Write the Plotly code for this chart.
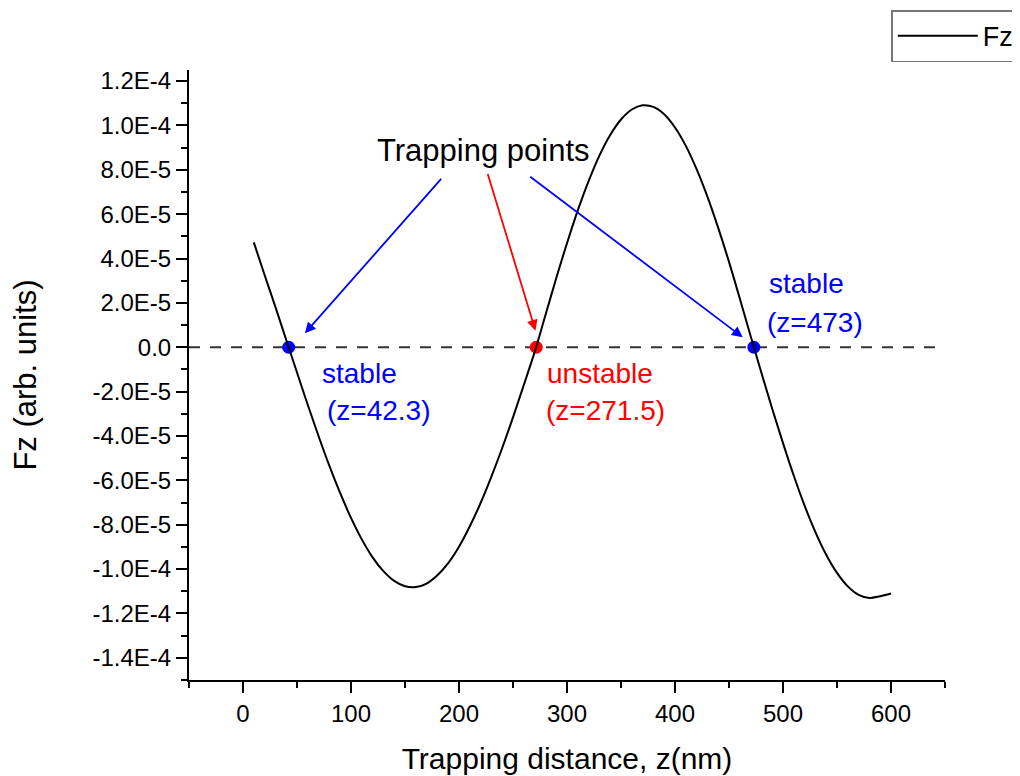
import plotly.graph_objects as go

# ---- data ----
z_nm = [10, 20, 30, 40, 50, 60, 70, 80, 90, 100, 110, 120, 130, 140, 150, 160, 170, 180, 190, 200,
        210, 220, 230, 240, 250, 260, 270, 280, 290, 300, 310, 320, 330, 340, 350, 360, 370, 380,
        390, 400, 410, 420, 430, 440, 450, 460, 470, 480, 490, 500, 510, 520, 530, 540, 550, 560,
        570, 580, 590, 600]
fz_e5 = [4.73, 3.26, 1.82, 0.34, -1.14, -2.60, -4.01, -5.35, -6.58, -7.69, -8.66, -9.47, -10.09,
         -10.53, -10.77, -10.81, -10.65, -10.28, -9.73, -8.99, -8.07, -7.02, -5.83, -4.54, -3.16,
         -1.70, -0.22, 1.44, 3.11, 4.69, 6.17, 7.49, 8.64, 9.57, 10.27, 10.72, 10.91, 10.84, 10.51,
         9.91, 9.08, 8.03, 6.79, 5.38, 3.85, 2.20, 0.51, -1.15, -2.77, -4.32, -5.79, -7.14, -8.33,
         -9.35, -10.17, -10.78, -11.16, -11.30, -11.22, -11.10]
fz = [v * 1e-5 for v in fz_e5]

trap_z = [42.3, 271.5, 473]
trap_fz = [0.0, 0.0, 0.0]
trap_colors = ["#0000FF", "#FF0000", "#0000FF"]
trap_kind = ["stable", "unstable", "stable"]
trap_label = ["(z=42.3)", "(z=271.5)", "(z=473)"]

y_tickvals = [1.2e-4, 1.0e-4, 8.0e-5, 6.0e-5, 4.0e-5, 2.0e-5, 0.0, -2.0e-5, -4.0e-5, -6.0e-5,
              -8.0e-5, -1.0e-4, -1.2e-4, -1.4e-4]
y_ticktext = ["1.2E-4", "1.0E-4", "8.0E-5", "6.0E-5", "4.0E-5", "2.0E-5", "0.0", "-2.0E-5",
              "-4.0E-5", "-6.0E-5", "-8.0E-5", "-1.0E-4", "-1.2E-4", "-1.4E-4"]
x_tickvals = [0, 100, 200, 300, 400, 500, 600]

FONT = "Arial, Liberation Sans, sans-serif"

fig = go.Figure()

fig.add_trace(go.Scatter(
    x=trap_z, y=trap_fz, mode="markers",
    marker=dict(size=13, color=trap_colors, line=dict(width=0)),
    showlegend=False, hoverinfo="skip"))

fig.add_trace(go.Scatter(
    x=z_nm, y=fz, mode="lines", name="Fz",
    line=dict(color="black", width=2, shape="spline")))

fig.add_shape(type="line", xref="x", yref="y", x0=-50, x1=650, y0=0, y1=0,
              line=dict(color="#333333", width=2, dash="11px,10px"), layer="below")

# text labels
label_pos = [  # (x_left_kind, y_kind, x_left_label, y_label)
    (71, -1.18e-5, 75.5, -2.85e-5),
    (280, -1.18e-5, 278.5, -2.85e-5),
    (485, 2.87e-5, 483, 1.11e-5),
]
for (xk, yk, xl, yl), kind, lab, col in zip(label_pos, trap_kind, trap_label, trap_colors):
    fig.add_annotation(x=xk, y=yk, xref="x", yref="y", text=kind, showarrow=False,
                       xanchor="left", yanchor="middle", font=dict(size=28, color=col, family=FONT))
    fig.add_annotation(x=xl, y=yl, xref="x", yref="y", text=lab, showarrow=False,
                       xanchor="left", yanchor="middle", font=dict(size=28, color=col, family=FONT))

fig.add_annotation(x=223, y=8.86e-5, xref="x", yref="y", text="Trapping points", showarrow=False,
                   xanchor="center", yanchor="middle", font=dict(size=31, color="black", family=FONT))

# arrows: (tail x, tail y, tip x, tip y, color)
arrows = [
    (184.7, 7.66e-5, 57.3, 6.3e-6, "#0000FF"),
    (226.2, 7.88e-5, 270.8, 7.5e-6, "#FF0000"),
    (264.6, 7.74e-5, 462.7, 4.5e-6, "#0000FF"),
]
for ax_, ay_, x_, y_, col in arrows:
    fig.add_annotation(x=x_, y=y_, ax=ax_, ay=ay_, xref="x", yref="y", axref="x", ayref="y",
                       text="", showarrow=True, arrowhead=2, arrowsize=1.2, arrowwidth=1.8,
                       arrowcolor=col, standoff=0, startstandoff=0)

fig.update_xaxes(
    range=[-50, 650], tickvals=x_tickvals, ticks="outside", ticklen=11, tickwidth=2,
    tickcolor="black", showline=True, linecolor="black", linewidth=2, showgrid=False,
    zeroline=False, tickfont=dict(size=24, family=FONT, color="black"),
    minor=dict(ticks="outside", ticklen=6, tickwidth=2, tickcolor="black", dtick=50, tick0=0,
               showgrid=False),
    title=dict(text="Trapping distance, z(nm)", font=dict(size=30, family=FONT, color="black"),
               standoff=22))
fig.update_yaxes(
    range=[-1.5e-4, 1.25e-4], tickvals=y_tickvals, ticktext=y_ticktext, ticks="outside",
    ticklen=11, tickwidth=2, tickcolor="black", showline=True, linecolor="black", linewidth=2,
    showgrid=False, zeroline=False, tickfont=dict(size=24, family=FONT, color="black"),
    minor=dict(ticks="outside", ticklen=6, tickwidth=2, tickcolor="black", dtick=1e-5, tick0=0,
               showgrid=False),
    title=dict(text="Fz (arb. units)", font=dict(size=31, family=FONT, color="black"),
               standoff=55))

fig.update_layout(
    width=1012, height=768, autosize=False,
    margin=dict(l=181, r=75, t=62, b=96, autoexpand=False),
    paper_bgcolor="white", plot_bgcolor="white",
    font=dict(family=FONT, color="black"),
    legend=dict(x=0.929, y=1.098, xanchor="left", yanchor="top", bgcolor="white",
                bordercolor="#777777", borderwidth=1.5, font=dict(size=27, family=FONT),
                itemwidth=80),
)

fig.write_html("out.html")
